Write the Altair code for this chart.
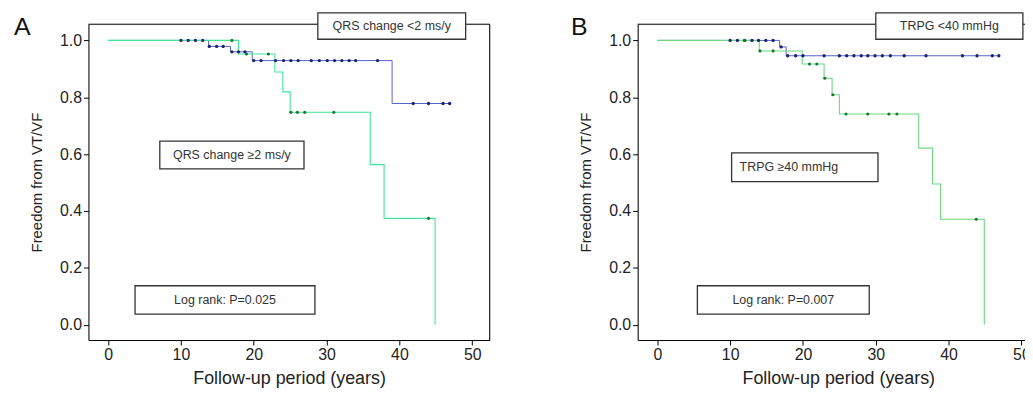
import altair as alt
import pandas as pd

# ---------------- Panel A: QRS change ----------------
a_blue_t = [0, 13.8, 16.8, 19.8, 39.0, 47.0]
a_blue_s = [1.0, 0.979, 0.960, 0.929, 0.778, 0.778]
a_blue_cens = [10, 11, 12, 13, 13.9, 14.9, 15.8, 17.0, 17.9, 18.8, 20.0, 21.0, 23.0, 24.1,
               25.1, 26.1, 27.9, 29.0, 30.1, 31.1, 32.1, 33.1, 34.0, 37.0, 41.9, 44.0, 46.0, 46.9]
a_green_t = [0, 17.9, 22.9, 24.0, 25.0, 36.0, 37.9, 44.9]
a_green_s = [1.0, 0.952, 0.889, 0.819, 0.747, 0.563, 0.374, 0.0]
a_green_cens = [17.0, 19.0, 22.0, 25.1, 26.0, 27.0, 31.0, 44.0]

# ---------------- Panel B: TRPG ----------------
b_blue_t = [0, 16.8, 17.7, 47.0]
b_blue_s = [1.0, 0.977, 0.946, 0.946]
b_blue_cens = [10.0, 11.0, 12.0, 13.0, 13.9, 14.9, 15.9, 17.0, 17.9, 19.0, 20.0, 22.9, 25.0,
               26.0, 27.0, 28.0, 28.9, 29.9, 30.9, 32.0, 33.9, 36.9, 41.9, 43.9, 46.0, 46.9]
b_green_t = [0, 14.0, 19.9, 22.9, 24.0, 25.0, 35.9, 37.8, 38.9, 44.9]
b_green_s = [1.0, 0.963, 0.917, 0.867, 0.809, 0.741, 0.621, 0.495, 0.371, 0.0]
b_green_cens = [12.0, 14.1, 15.9, 20.9, 21.9, 23.0, 24.1, 25.9, 28.9, 31.8, 32.9, 43.8]

# annotation boxes: label, x1, x2, y1, y2 (data units), text x, align
a_box_labels = ["QRS change <2 ms/y", "QRS change \u22652 ms/y", "Log rank: P=0.025"]
a_box_x1 = [28.8, 7.1, 3.7]
a_box_x2 = [49.1, 26.9, 28.4]
a_box_y1 = [1.004, 0.548, 0.037]
a_box_y2 = [1.097, 0.646, 0.137]
a_box_tx = [38.95, 17.0, 16.05]
a_box_align = ["center", "center", "center"]

b_box_labels = ["TRPG <40 mmHg", "TRPG \u226540 mmHg", "Log rank: P=0.007"]
b_box_x1 = [30.0, 10.2, 5.5]
b_box_x2 = [50.2, 30.3, 29.1]
b_box_y1 = [1.004, 0.503, 0.037]
b_box_y2 = [1.097, 0.604, 0.137]
b_box_tx = [40.1, 11.3, 17.3]
b_box_align = ["center", "left", "center"]

x_ticks = [0, 10, 20, 30, 40, 50]
y_ticks = [0.0, 0.2, 0.4, 0.6, 0.8, 1.0]

X_MIN = -2.7
X_MAX = 52.4
PX_PER_YEAR = 7.33
Y_DOMAIN = [-0.054, 1.057]
H = 318
BLUE = "#5663c9"
BLUE_DOT = "#1b2170"
GREEN_DOT = "#137a35"
FONT = "Liberation Sans"
TXT = "#222222"


def level_at(ts, ss, t):
    lvl = ss[0]
    for ti, si in zip(ts, ss):
        if ti <= t:
            lvl = si
    return lvl


def panel(letter, letter_x, bt, bs, bc, gt, gs, gc, green, labels, x1, x2, y1, y2, tx, align):
    W = round((X_MAX - X_MIN) * PX_PER_YEAR)
    xs = alt.Scale(domain=[X_MIN, X_MAX], nice=False, zero=False)
    ys = alt.Scale(domain=Y_DOMAIN, nice=False, zero=False)
    xax = alt.Axis(values=x_ticks, title="Follow-up period (years)", grid=False, format="d",
                   domainColor="black", tickColor="black", tickSize=5, labelPadding=2,
                   labelFontSize=16, titleFontSize=18, titleFontWeight="normal",
                   labelColor=TXT, titleColor=TXT, titlePadding=7, labelFont=FONT, titleFont=FONT,
                   labelOverlap=False, labelFlush=False)
    yax = alt.Axis(values=y_ticks, title="Freedom from VT/VF", grid=False, format=".1f",
                   domainColor="black", tickColor="black", tickSize=5, labelPadding=2,
                   labelFontSize=16, titleFontSize=15, titleFontWeight="normal",
                   labelColor=TXT, titleColor=TXT, titlePadding=15, labelFont=FONT, titleFont=FONT)

    def X(f):
        return alt.X(f, type="quantitative", scale=xs, axis=xax)

    def Y(f):
        return alt.Y(f, type="quantitative", scale=ys, axis=yax)

    blue_df = pd.DataFrame({"t": bt, "s": bs})
    green_df = pd.DataFrame({"t": gt, "s": gs})
    bc_df = pd.DataFrame({"t": bc, "s": [level_at(bt, bs, t) for t in bc]})
    gc_df = pd.DataFrame({"t": gc, "s": [level_at(gt, gs, t) for t in gc]})
    box_df = pd.DataFrame({"label": labels, "x1": x1, "x2": x2, "y1": y1, "y2": y2,
                           "tx": tx, "ty": [(a + b) / 2 for a, b in zip(y1, y2)], "align": align})
    one = pd.DataFrame({"k": [letter]})

    layers = [
        alt.Chart(one).mark_rule(color="black", strokeWidth=1).encode(
            x=alt.value(0), x2=alt.value(W), y=alt.value(0)),
        alt.Chart(one).mark_rule(color="black", strokeWidth=1).encode(
            x=alt.value(W), y=alt.value(0), y2=alt.value(H)),
        alt.Chart(blue_df).mark_line(interpolate="step-after", color=BLUE, strokeWidth=1).encode(
            x=X("t"), y=Y("s")),
        alt.Chart(green_df).mark_line(interpolate="step-after", color=green, strokeWidth=1.1).encode(
            x=X("t"), y=Y("s")),
        alt.Chart(bc_df).mark_point(shape="circle", filled=True, size=11, color=BLUE_DOT,
                                    opacity=1).encode(x=X("t"), y=Y("s")),
        alt.Chart(gc_df).mark_point(shape="circle", filled=True, size=10, color=GREEN_DOT,
                                    opacity=1).encode(x=X("t"), y=Y("s")),
        alt.Chart(box_df).mark_rect(fill="white", stroke="#333333", strokeWidth=1.3).encode(
            x=X("x1"), x2="x2", y=Y("y1"), y2="y2"),
    ]
    for al in ["center", "left"]:
        sub = box_df[box_df["align"] == al]
        if len(sub):
            layers.append(alt.Chart(sub).mark_text(align=al, baseline="middle", fontSize=12.5,
                                                   font=FONT, color="#333333").encode(
                x=X("tx"), y=Y("ty"), text="label"))
    layers.append(alt.Chart(one).mark_text(align="left", baseline="alphabetic", fontSize=25,
                                           font=FONT, color="#111111").encode(
        x=alt.value(letter_x), y=alt.value(11), text="k"))

    return alt.layer(*layers).properties(width=W, height=H)


pa = panel("A", -75, a_blue_t, a_blue_s, a_blue_cens, a_green_t, a_green_s, a_green_cens,
           "#3fe59b", a_box_labels, a_box_x1, a_box_x2, a_box_y1, a_box_y2, a_box_tx, a_box_align)
pb = panel("B", -67, b_blue_t, b_blue_s, b_blue_cens, b_green_t, b_green_s, b_green_cens,
           "#6fd882", b_box_labels, b_box_x1, b_box_x2, b_box_y1, b_box_y2, b_box_tx, b_box_align)

chart = alt.hconcat(pa, pb, spacing=80).properties(
    padding={"left": 5, "top": 2, "right": -15, "bottom": 0}
).configure_view(stroke="transparent").configure(background="white")

chart.save("out.html", embed_options={"renderer": "svg", "actions": False})
